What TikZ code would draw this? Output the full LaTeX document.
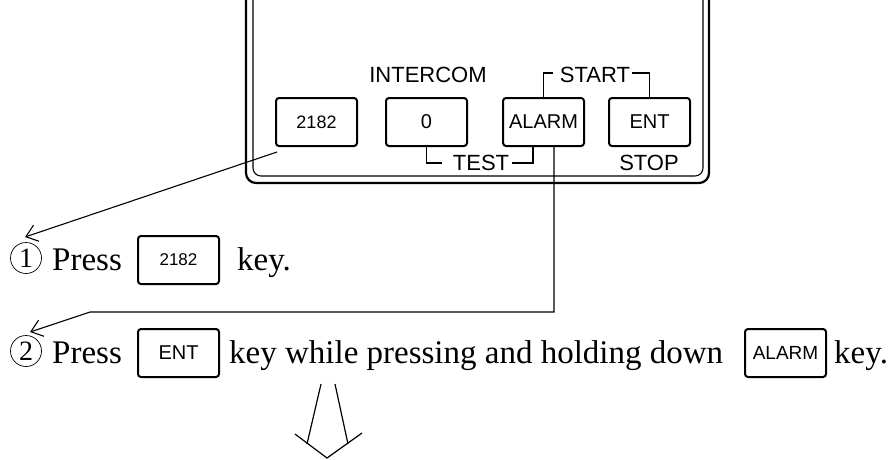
\documentclass[tikz,border=0pt]{standalone}
\usepackage{fontspec}
\setmainfont{Liberation Serif}
\newfontfamily\arialf{Liberation Sans}
\usetikzlibrary{arrows.meta}
\begin{document}
\begin{tikzpicture}[x=1pt,y=-1pt,
  keybox/.style={draw, line width=2pt, rounded corners=3pt, minimum width=81pt, minimum height=48pt, inner sep=0pt, font=\arialf\fontsize{20}{20}\selectfont},
  lab/.style={font=\arialf\fontsize{22}{22}\selectfont, inner sep=0pt, anchor=base},
  txt/.style={font=\fontsize{33}{33}\selectfont, inner sep=0pt, anchor=base west},
  brk/.style={line width=1.4pt},
  call/.style={line width=1.1pt, -{Straight Barb[length=11pt,width=17pt,line width=1.1pt]}},
  num/.style={draw, circle, line width=0.7pt, minimum size=31pt, inner sep=0pt, font=\fontsize{28}{28}\selectfont}]
\useasboundingbox (0,0) rectangle (893,459);
% panel frame
\draw[line width=2.2pt, rounded corners=10pt] (246,-5) -- (246,183) -- (709,183) -- (709,-5);
\draw[line width=1.1pt, rounded corners=8pt] (253,-5) -- (253,176) -- (703,176) -- (703,-5);
% panel keys
\node[keybox, font=\arialf\fontsize{18}{18}\selectfont] (k2182) at (316.5,122) {2182};
\node[keybox] (kzero) at (426.5,122) {0};
\node[keybox] (kalarm) at (543.5,122) {ALARM};
\node[keybox] (kent) at (649.5,122) {ENT};
% panel labels
\node[lab] (lint) at (428,82) {INTERCOM};
\node[lab] (lstart) at (595,82) {START};
\node[lab] (ltest) at (481,170) {TEST};
\node[lab] (lstop) at (649,170) {STOP};
% brackets
\draw[brk] (kalarm.north) -- (543.5,73) -- (553,73);
\draw[brk] (632,73) -- (649.5,73) -- (kent.north);
\draw[brk] (kzero.south) -- (426.5,163) -- (442,163);
\draw[brk] (512,163) -- (533,163) -- (533,146);
% step 1
\node[num] (n1) at (26,258) {1};
\node[txt] (p1) at (52,270) {Press};
\node[keybox, font=\arialf\fontsize{17}{17}\selectfont] (b2182) at (178.5,260) {2182};
\node[txt] (e1) at (237,270) {key.};
% step 2
\node[num] (n2) at (26,351) {2};
\node[txt] (p2) at (52,363) {Press};
\node[keybox] (bent) at (178.5,353) {ENT};
\node[txt] (w2) at (229,363) {key while pressing and holding down};
\node[keybox, font=\arialf\fontsize{19}{19}\selectfont] (balarm) at (785.5,353) {ALARM};
\node[txt] (e2) at (834,363) {key.};
% callouts
\coordinate (c1) at (277,152);
\coordinate (t1) at (25,237);
\draw[call] (c1) -- (t1);
\coordinate (t2) at (30,332);
\draw[call] (554,146) -- (554,312) -- (90,312) -- (t2);
% hollow down arrow
\coordinate (ha) at (321,384);
\coordinate (hb) at (335,384);
\coordinate (hl) at (307,444);
\coordinate (hr) at (348,444);
\coordinate (htip) at (327,458);
\draw[line width=1.2pt] (ha) -- (hl);
\draw[line width=1.2pt] (hb) -- (hr);
\draw[line width=1.2pt] (295,434) -- (htip) -- (362,433);
\end{tikzpicture}
\end{document}
